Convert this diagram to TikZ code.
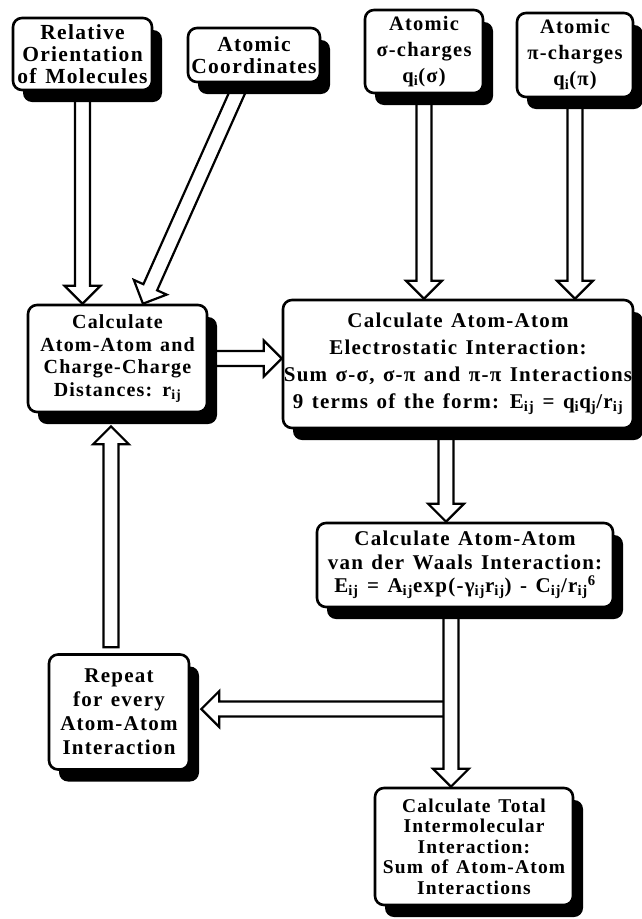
\documentclass[tikz,border=0pt]{standalone}
\usepackage{fontspec}
\setmainfont{Liberation Serif}[LetterSpace=6,WordSpace=1.3]
\usetikzlibrary{calc,shadows,backgrounds}
\tikzset{
  box/.style={draw, line width=2.6pt, rounded corners=9pt, fill=white, align=center, inner sep=0pt,
    general shadow={fill=black, shadow xshift=10pt, shadow yshift=-12pt}},
  ftxt/.style 2 args={font=\bfseries\fontsize{#1}{#2}\selectfont},
  harrow/.style={draw, line width=2.2pt, fill=white, line join=miter},
}
\newcommand{\hollowarrow}[3][]{%
  \coordinate (hh) at ($(#3)!18pt!(#2)$);
  \path[harrow] ($(#2)!7.5pt!90:(#3)$) -- ($(hh)!7.5pt!90:(#3)$) -- ($(hh)!18pt!90:(#3)$) -- (#3)
    -- ($(hh)!18pt!-90:(#3)$) -- ($(hh)!7.5pt!-90:(#3)$) -- ($(#2)!7.5pt!-90:(#3)$) #1;
}
\begin{document}
\begin{tikzpicture}[x=1pt,y=-1pt]
\useasboundingbox (0,0) rectangle (641,919);
% boxes
\node[box, minimum width=139pt, minimum height=72pt, ftxt={21.5}{22}] (rel) at (82.5,54) {Relative\\Orientation\\of Molecules};
\node[box, minimum width=132pt, minimum height=54pt, ftxt={21.5}{22}] (coord) at (254,55) {Atomic\\Coordinates};
\node[box, minimum width=118pt, minimum height=83pt, ftxt={20.5}{26}] (sig) at (424,51.5) {Atomic\\σ-charges\\q\textsubscript{i}(σ)};
\node[box, minimum width=116pt, minimum height=84pt, ftxt={20.5}{26}] (pi) at (575,55) {Atomic\\π-charges\\q\textsubscript{i}(π)};
\node[box, minimum width=179pt, minimum height=107pt, ftxt={20}{22.5}] (dist) at (117.5,358.5) {Calculate\\Atom-Atom and\\Charge-Charge\\Distances: r\textsubscript{ij}};
\node[box, minimum width=350pt, minimum height=128pt, ftxt={21}{27}] (elec) at (458,364) {Calculate Atom-Atom\\Electrostatic Interaction:\\Sum σ-σ, σ-π and π-π Interactions\\9 terms of the form: E\textsubscript{ij} = q\textsubscript{i}q\textsubscript{j}/r\textsubscript{ij}};
\node[box, minimum width=296pt, minimum height=84pt, ftxt={21}{23.5}] (vdw) at (465,565) {Calculate Atom-Atom\\van der Waals Interaction:\\E\textsubscript{ij} = A\textsubscript{ij}exp(-γ\textsubscript{ij}r\textsubscript{ij}) - C\textsubscript{ij}/r\textsubscript{ij}\textsuperscript{6}};
\node[box, minimum width=140pt, minimum height=115pt, ftxt={21}{24}] (rep) at (119,712) {Repeat\\for every\\Atom-Atom\\Interaction};
\node[box, minimum width=198pt, minimum height=117pt, ftxt={19.5}{20.5}] (tot) at (474,846.5) {Calculate Total\\Intermolecular\\Interaction:\\Sum of Atom-Atom\\Interactions};
% connector end points
\coordinate (a1s) at (rel.center);
\coordinate (a1e) at (rel.center |- dist.north);
\coordinate (a2s) at (coord.center);
\coordinate (a2e) at ($(dist.north west)!0.64!(dist.north east)$);
\coordinate (a3s) at (sig.center);
\coordinate (a3e) at (sig.center |- elec.north);
\coordinate (a4s) at (pi.center);
\coordinate (a4e) at (pi.center |- elec.north);
\coordinate (a5s) at (dist.center);
\coordinate (a5e) at (dist.center -| elec.west);
\coordinate (a6b) at ($(elec.south west)!0.466!(elec.south east)$);
\coordinate (a6s) at ($(a6b)+(0,-20)$);
\coordinate (a6e) at (a6b |- vdw.north);
\coordinate (a7b) at ($(vdw.south west)!0.453!(vdw.south east)$);
\coordinate (a7s) at ($(a7b)+(0,-20)$);
\coordinate (a7e) at (a7b |- tot.north);
\coordinate (brs) at ($(a7b |- rep.east)+(0,-3)$);
\coordinate (bre) at ($(rep.east)+(11,-3)$);
\coordinate (a8s) at ($(rep.north)+(-8,-6)$);
\coordinate (a8e) at ($(dist.south)+(-6.5,13)$);
\begin{pgfonlayer}{background}
\hollowarrow{a1s}{a1e}
\hollowarrow{a2s}{a2e}
\hollowarrow{a3s}{a3e}
\hollowarrow{a4s}{a4e}
\hollowarrow{a5s}{a5e}
\hollowarrow{a6s}{a6e}
\hollowarrow{brs}{bre}
\hollowarrow{a7s}{a7e}
\hollowarrow[-- cycle]{a8s}{a8e}
\end{pgfonlayer}
\end{tikzpicture}
\end{document}
